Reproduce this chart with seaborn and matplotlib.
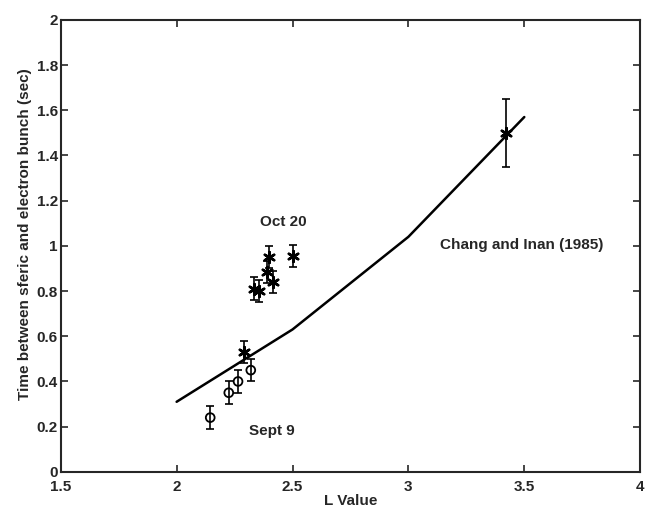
import matplotlib
matplotlib.use("Agg")
import matplotlib.pyplot as plt
import seaborn as sns
import pandas as pd
import numpy as np

# Model curve: Chang and Inan (1985)
model_L = [2.0, 2.5, 3.0, 3.5]
model_t = [0.31, 0.63, 1.04, 1.57]

# Sept 9 observations (circles)
sep_L = [2.145, 2.225, 2.265, 2.32]
sep_t = [0.24, 0.35, 0.40, 0.45]
sep_err = [0.05, 0.05, 0.05, 0.05]

# Oct 20 observations (stars)
oct_L = [2.29, 2.335, 2.355, 2.39, 2.40, 2.415, 2.50, 3.42]
oct_t = [0.53, 0.81, 0.80, 0.885, 0.95, 0.84, 0.955, 1.50]
oct_err = [0.05, 0.05, 0.05, 0.05, 0.05, 0.05, 0.05, 0.15]

sns.set_style("ticks")
plt.rcParams['font.family'] = ['Liberation Sans', 'DejaVu Sans']
plt.rcParams['font.weight'] = 'bold'

fig = plt.figure(figsize=(6.46, 5.09), dpi=100)
ax = fig.add_axes([0.094, 0.073, 0.897, 0.888])

model_df = pd.DataFrame({"L": model_L, "t": model_t})
sns.lineplot(data=model_df, x="L", y="t", ax=ax, color="black", lw=1.8, sort=False)

ax.errorbar(sep_L, sep_t, yerr=sep_err, fmt='none', ecolor='black', elinewidth=1.2, capsize=3, capthick=1.2)
sns.scatterplot(x=sep_L, y=sep_t, ax=ax, marker='o', s=40, facecolor='none', edgecolor='black', linewidth=1.3, zorder=3)

ax.errorbar(oct_L, oct_t, yerr=oct_err, fmt='none', ecolor='black', elinewidth=1.2, capsize=3, capthick=1.2)
sns.scatterplot(x=oct_L, y=oct_t, ax=ax, marker=(6, 2, 0), s=60, color='black', linewidth=1.8, zorder=3)

ax.text(2.46, 1.105, "Oct 20", fontsize=11, fontweight='bold', ha='center', va='center')
ax.text(2.41, 0.18, "Sept 9", fontsize=11, fontweight='bold', ha='center', va='center')
ax.text(3.49, 1.005, "Chang and Inan (1985)", fontsize=11, fontweight='bold', ha='center', va='center')

ax.set_xlim(1.5, 4)
ax.set_ylim(0, 2)
ax.set_xticks([1.5, 2, 2.5, 3, 3.5, 4])
ax.set_xticklabels(["1.5", "2", "2.5", "3", "3.5", "4"])
ax.set_yticks(np.arange(0, 2.01, 0.2))
ax.set_yticklabels(["0", "0.2", "0.4", "0.6", "0.8", "1", "1.2", "1.4", "1.6", "1.8", "2"])
ax.tick_params(direction='in', top=True, right=True, length=5, width=1.2, labelsize=11)
ax.tick_params(axis='x', pad=6)
ax.tick_params(axis='y', pad=2)
for lab in ax.get_xticklabels() + ax.get_yticklabels():
    lab.set_fontweight('bold')
for s in ax.spines.values():
    s.set_linewidth(1.5)
    s.set_visible(True)

ax.set_xlabel("L Value", fontsize=11, fontweight='bold', labelpad=0)
ax.set_ylabel("Time between sferic and electron bunch (sec)", fontsize=11, fontweight='bold')
ax.yaxis.set_label_coords(-0.05, 0.527)

fig.savefig("out.png", dpi=100)
